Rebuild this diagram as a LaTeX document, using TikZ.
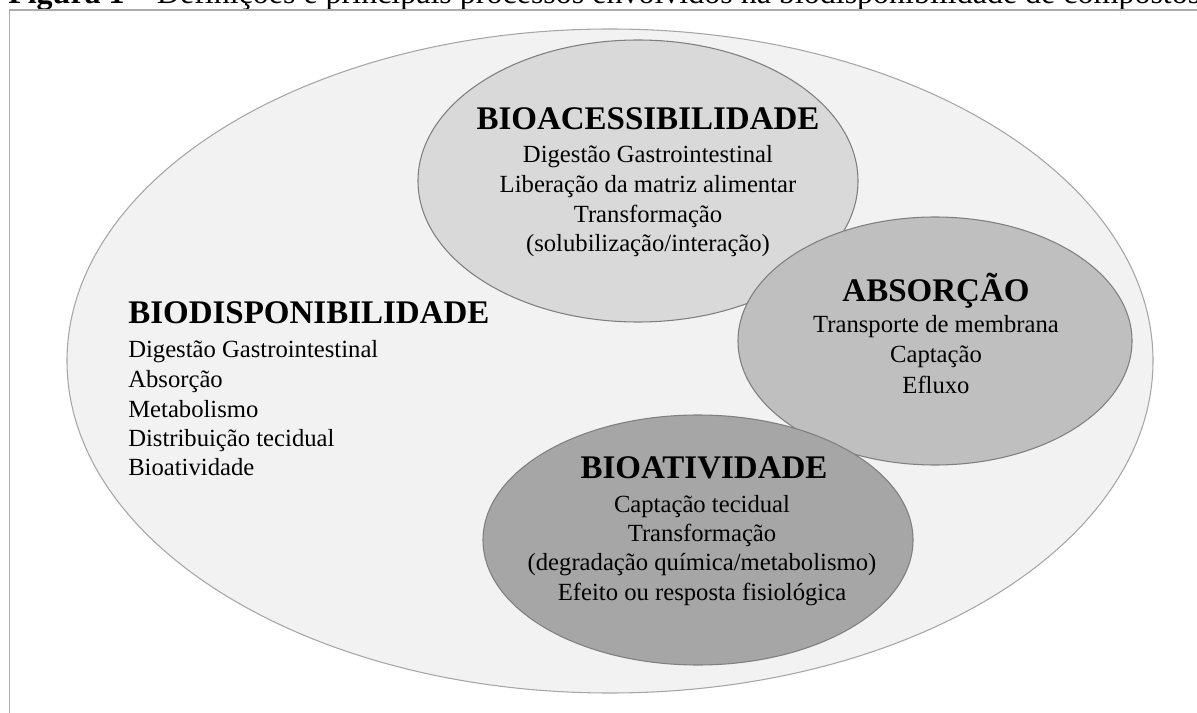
\documentclass[tikz,border=0pt]{standalone}
\usepackage{fontspec}
\setmainfont{Liberation Serif}
\usetikzlibrary{shapes.geometric}
\definecolor{fillouter}{HTML}{F2F2F2}
\definecolor{fillacc}{HTML}{D9D9D9}
\definecolor{fillabs}{HTML}{BFBFBF}
\definecolor{fillatv}{HTML}{A6A6A6}
\definecolor{edgeouter}{HTML}{A6A6A6}
\definecolor{edgeinner}{HTML}{7F7F7F}
\definecolor{framecol}{HTML}{ACACAC}
\begin{document}
\begin{tikzpicture}[x=0.75pt,y=-0.75pt,
  ell/.style={ellipse, draw=edgeinner, line width=0.8pt, inner sep=0pt},
  ttl/.style={anchor=base, inner sep=0pt, font=\fontsize{24.75pt}{28pt}\selectfont\bfseries},
  txt/.style={anchor=base, inner sep=0pt, font=\fontsize{18.5pt}{22pt}\selectfont},
  ttlw/.style={ttl, anchor=base west},
  txtw/.style={txt, anchor=base west}]
\useasboundingbox (0,0) rectangle (1197,713);
\clip (0,0) rectangle (1197,713);
% caption (cut off at the top)
\node[anchor=base west, inner sep=0pt, font=\fontsize{24pt}{28pt}\selectfont] (cap) at (8,4)
  {\textbf{Figura 1 –} Definições e principais processos envolvidos na biodisponibilidade de compostos};
% frame
\coordinate (fbl) at (9.5,760);
\coordinate (ftl) at (9.5,10);
\coordinate (ftr) at (1260,10);
\draw[framecol, line width=1.1pt] (fbl) -- (ftl) -- (ftr);
% ellipses
\node[ell, fill=fillouter, draw=edgeouter, minimum width=814.5pt, minimum height=498pt] (biod) at (610,361) {};
\node[ell, fill=fillacc, minimum width=330pt, minimum height=211.5pt] (acc) at (638,181) {};
\node[ell, fill=fillabs, minimum width=295.5pt, minimum height=186pt] (abs) at (935,341) {};
\node[ell, fill=fillatv, minimum width=322.5pt, minimum height=187.5pt] (atv) at (698,540) {};
% BIOACESSIBILIDADE
\node[ttl] (accT) at (648,130) {BIOACESSIBILIDADE};
\node[txt] (acc1) at (648,163) {Digestão Gastrointestinal};
\node[txt] (acc2) at (648,193) {Liberação da matriz alimentar};
\node[txt] (acc3) at (648,223) {Transformação};
\node[txt] (acc4) at (648,252) {(solubilização/interação)};
% ABSORÇÃO
\node[ttl] (absT) at (936,301) {ABSORÇÃO};
\node[txt] (abs1) at (936,333) {Transporte de membrana};
\node[txt] (abs2) at (936,363) {Captação};
\node[txt] (abs3) at (936,393) {Efluxo};
% BIOATIVIDADE
\node[ttl] (atvT) at (704,478) {BIOATIVIDADE};
\node[txt] (atv1) at (702,512) {Captação tecidual};
\node[txt] (atv2) at (702,541) {Transformação};
\node[txt] (atv3) at (702,570) {(degradação química/metabolismo)};
\node[txt] (atv4) at (702,600) {Efeito ou resposta fisiológica};
% BIODISPONIBILIDADE
\node[ttlw] (biodT) at (128,324) {BIODISPONIBILIDADE};
\node[txtw] (biod1) at (128,357) {Digestão Gastrointestinal};
\node[txtw] (biod2) at (128,387) {Absorção};
\node[txtw] (biod3) at (128,417) {Metabolismo};
\node[txtw] (biod4) at (128,446) {Distribuição tecidual};
\node[txtw] (biod5) at (128,475) {Bioatividade};
\end{tikzpicture}
\end{document}
